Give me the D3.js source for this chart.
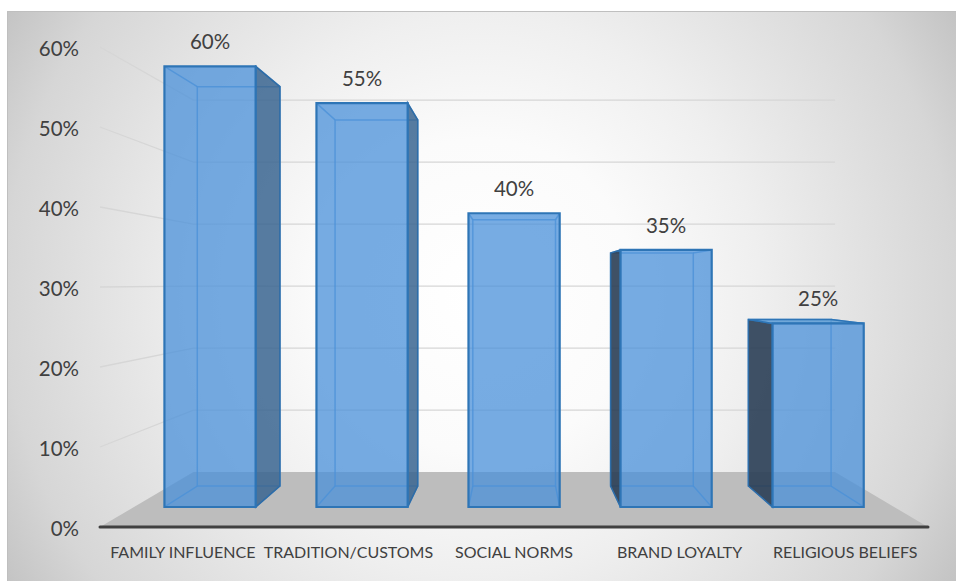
<!DOCTYPE html>
<html>
<head>
<meta charset="utf-8">
<script src="https://cdn.jsdelivr.net/npm/d3@7"></script>
<style>
  html, body { margin: 0; padding: 0; background: #ffffff; }
  svg { display: block; }
  text { font-family: Lato, "Open Sans", sans-serif; fill: #404040; }
</style>
</head>
<body>
<svg id="chart" width="956" height="581"></svg>
<script>
// Chart data
const categories = ["FAMILY INFLUENCE", "TRADITION/CUSTOMS", "SOCIAL NORMS", "BRAND LOYALTY", "RELIGIOUS BELIEFS"];
const values = [0.60, 0.55, 0.40, 0.35, 0.25];
const tickValues = [0, 0.1, 0.2, 0.3, 0.4, 0.5, 0.6];

// Layout of the 3D scene (front plane in screen pixels)
const W = 956, H = 581;
const front = { left: 100, right: 928, base: 527, top: 47 };
const vp = { x: 515, y: 283 };                 // vanishing point
const depth = { floorFront: 1, floorBack: 0.775, barFront: 0.918, barBack: 0.832 };

const svg = d3.select("#chart");
const defs = svg.append("defs");

// Soft radial background of the chart area
const bg = defs.append("radialGradient")
  .attr("id", "bgGrad").attr("gradientUnits", "userSpaceOnUse")
  .attr("cx", 480).attr("cy", 296).attr("r", 560);
[[0, "#ffffff"], [0.28, "#fbfbfb"], [0.5, "#efefef"], [0.85, "#d6d6d6"], [1, "#c2c2c2"]]
  .forEach(([o, c]) => bg.append("stop").attr("offset", o).attr("stop-color", c));

svg.append("rect").attr("x", 7).attr("y", 11).attr("width", W - 7).attr("height", H - 11)
  .attr("fill", "url(#bgGrad)");
svg.append("path").attr("d", `M7.5,${H}V11.5H${W}`).attr("fill", "none")
  .attr("stroke", "#bfbfbf").attr("stroke-width", 1);

// Scales
const x = d3.scaleBand().domain(categories).range([front.left, front.right])
  .paddingInner(0.4).paddingOuter(0.2);
const h = d3.scaleLinear().domain([0, 0.6]).range([0, front.base - front.top]);
const yFront = d3.scaleLinear().domain([0, 0.6]).range([front.base, front.top]);

// Perspective projection: front-plane x, height in px, depth factor s
function project(px, ph, s) {
  return [vp.x + s * (px - vp.x), vp.y + s * (front.base - ph - vp.y)];
}
const line = pts => "M" + pts.map(p => p.join(",")).join("L");
const poly = pts => line(pts) + "Z";

// Gridlines: left wall diagonals and back wall horizontals
const grid = svg.append("g").attr("stroke", "#d6d6d6").attr("stroke-width", 1.3).attr("fill", "none");
tickValues.filter(v => v > 0).forEach(v => {
  const a = project(front.left, h(v), depth.floorFront);
  const b = project(front.left, h(v), depth.floorBack);
  const c = project(front.right, h(v), depth.floorBack);
  grid.append("path").attr("d", line([a, b, c]));
});

// Floor
svg.append("path")
  .attr("d", poly([
    project(front.left, 0, depth.floorFront), project(front.right, 0, depth.floorFront),
    project(front.right, 0, depth.floorBack), project(front.left, 0, depth.floorBack)
  ]))
  .attr("fill", "#bdbdbd");

// Category axis line along the front edge of the floor
svg.append("line")
  .attr("x1", front.left).attr("x2", front.right)
  .attr("y1", front.base).attr("y2", front.base)
  .attr("stroke", "#404040").attr("stroke-width", 3).attr("stroke-linecap", "round");

// Bars as translucent boxes
const bars = svg.append("g");
categories.forEach((cat, i) => {
  const v = values[i];
  const x0 = x(cat), x1 = x(cat) + x.bandwidth(), hh = h(v);
  const F = {
    tl: project(x0, hh, depth.barFront), tr: project(x1, hh, depth.barFront),
    bl: project(x0, 0, depth.barFront),  br: project(x1, 0, depth.barFront)
  };
  const B = {
    tl: project(x0, hh, depth.barBack), tr: project(x1, hh, depth.barBack),
    bl: project(x0, 0, depth.barBack),  br: project(x1, 0, depth.barBack)
  };
  const g = bars.append("g");

  // hidden edges seen through the translucent faces
  const inner = g.append("g").attr("stroke", "#4a8fd2").attr("stroke-width", 1.5)
    .attr("stroke-opacity", 0.75).attr("fill", "none");
  inner.append("path").attr("d", poly([B.tl, B.tr, B.br, B.bl]));
  ["tl", "tr", "bl", "br"].forEach(k => inner.append("path").attr("d", line([F[k], B[k]])));

  // side face toward the vanishing point
  if (x1 < vp.x - 5) {
    g.append("path").attr("d", poly([F.tr, B.tr, B.br, F.br]))
      .attr("fill", "#3a6590").attr("fill-opacity", 0.85)
      .attr("stroke", "#2e6da8").attr("stroke-width", 1.5);
  } else if (x0 > vp.x + 5) {
    g.append("path").attr("d", poly([F.tl, B.tl, B.bl, F.bl]))
      .attr("fill", "#2a3e55").attr("fill-opacity", 0.9)
      .attr("stroke", "#2e6da8").attr("stroke-width", 1.5);
  }
  // top face when it lies below eye level
  if (F.tl[1] > vp.y) {
    g.append("path").attr("d", poly([F.tl, F.tr, B.tr, B.tl]))
      .attr("fill", "#5b9bd5").attr("fill-opacity", 0.85)
      .attr("stroke", "#2e75b6").attr("stroke-width", 1.5);
  }
  // front face
  g.append("path").attr("d", poly([F.tl, F.tr, F.br, F.bl]))
    .attr("fill", "#4a90d9").attr("fill-opacity", 0.75)
    .attr("stroke", "#2e75b6").attr("stroke-width", 2.2);

  // value label
  svg.append("text")
    .attr("x", (F.tl[0] + F.tr[0]) / 2).attr("y", F.tl[1] - 17)
    .attr("text-anchor", "middle").attr("font-size", 20.5)
    .text(d3.format(".0%")(v));
});

// Value axis labels on the front plane
const yAxis = svg.append("g").attr("transform", "translate(79,0)")
  .call(d3.axisLeft(yFront).tickValues(tickValues).tickFormat(d3.format(".0%"))
    .tickSize(0).tickPadding(0));
yAxis.select(".domain").remove();
yAxis.selectAll("text").attr("font-size", 20.5).attr("dy", "0.4em")
  .attr("font-family", "Lato, 'Open Sans', sans-serif").attr("fill", "#404040");

// Category labels under the floor
const xAxis = svg.append("g").attr("transform", `translate(0,${front.base})`)
  .call(d3.axisBottom(x).tickSize(0).tickPadding(31));
xAxis.select(".domain").remove();
xAxis.selectAll("text").attr("font-size", 16).attr("dy", 0)
  .attr("font-family", "Lato, 'Open Sans', sans-serif").attr("fill", "#404040");
</script>
</body>
</html>
